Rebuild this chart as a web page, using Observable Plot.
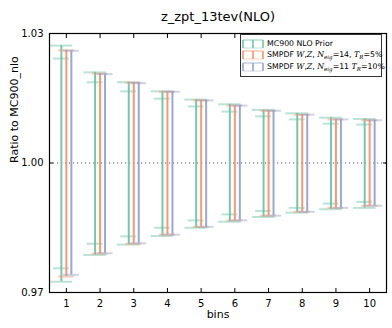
<!DOCTYPE html>
<html><head><meta charset="utf-8">
<script src="https://cdn.jsdelivr.net/npm/d3@7"></script>
<script src="https://cdn.jsdelivr.net/npm/@observablehq/plot@0.6"></script>
<style>
body{margin:0;background:#fff;}
#wrap{position:relative;width:392px;height:328px;font-family:"DejaVu Sans",sans-serif;}
#legend{position:absolute;left:240px;top:34px;width:142px;height:43px;border:1px solid #333;background:#fff;box-sizing:border-box;font-size:7.8px;color:#000;}
.row{position:absolute;left:1px;height:11px;display:flex;align-items:center;white-space:nowrap;}
.row svg{margin-right:3px;}
.m{font-family:"DejaVu Serif",serif;font-style:italic;}
sub{font-size:5.5px;vertical-align:-1.5px;}
</style></head><body><div id="wrap"></div>
<script>
const bins = [1, 2, 3, 4, 5, 6, 7, 8, 9, 10];
const yTicks = [0.97, 1.00, 1.03];
const seriesNames = ["MC900 NLO Prior", "SMPDF W,Z, N_eig=14, T_R=5%", "SMPDF W,Z, N_eig=11 T_R=10%"];
const colors = ["#66c2a5", "#fc8d62", "#8da0cb"];

const priorHigh   = [1.0272, 1.0210, 1.0187, 1.0166, 1.0147, 1.0136, 1.0123, 1.0115, 1.0105, 1.0102];
const priorLow    = [0.9725, 0.9787, 0.9811, 0.9831, 0.9850, 0.9864, 0.9875, 0.9885, 0.9893, 0.9896];
const prior68High = [1.0242, 1.0187, 1.0166, 1.0149, 1.0131, 1.0119, 1.0108, 1.0101, 1.0091, 1.0089];
const prior68Low  = [0.9756, 0.9813, 0.9830, 0.9850, 0.9867, 0.9881, 0.9889, 0.9896, 0.9906, 0.9910];
const smpdf14High = [1.0261, 1.0207, 1.0186, 1.0165, 1.0145, 1.0133, 1.0121, 1.0112, 1.0101, 1.0099];
const smpdf14Low  = [0.9737, 0.9790, 0.9813, 0.9834, 0.9852, 0.9867, 0.9878, 0.9887, 0.9896, 0.9901];
const smpdf11High = [1.0260, 1.0206, 1.0185, 1.0165, 1.0145, 1.0133, 1.0121, 1.0112, 1.0101, 1.0099];
const smpdf11Low  = [0.9741, 0.9791, 0.9814, 0.9834, 0.9852, 0.9867, 0.9878, 0.9887, 0.9896, 0.9901];

const mk = (lo, hi) => bins.map((b, i) => ({bin: b, low: lo[i], high: hi[i]}));
const prior = mk(priorLow, priorHigh);
const prior68 = mk(prior68Low, prior68High);
const s14 = mk(smpdf14Low, smpdf14High);
const s11 = mk(smpdf11Low, smpdf11High);

const off = 0.148;
function errbar(data, dx, color, capHalf, extra = []) {
  const marks = [
    Plot.ruleX(data, {x: d => d.bin + dx, y1: "low", y2: "high", stroke: color, strokeWidth: 2, strokeOpacity: 0.9}),
    Plot.ruleY(data, {y: "high", x1: d => d.bin + dx - capHalf, x2: d => d.bin + dx + capHalf, stroke: color, strokeWidth: 2, strokeOpacity: 0.45}),
    Plot.ruleY(data, {y: "low", x1: d => d.bin + dx - capHalf, x2: d => d.bin + dx + capHalf, stroke: color, strokeWidth: 2, strokeOpacity: 0.45})
  ];
  return marks.concat(extra);
}

const chart = Plot.plot({
  width: 392, height: 328,
  marginLeft: 49, marginRight: 6, marginTop: 33, marginBottom: 36,
  style: {fontFamily: "DejaVu Sans, sans-serif", fontSize: "10px", color: "#000", background: "#fff"},
  x: {domain: [0.5, 10.5]},
  y: {domain: [0.97, 1.03]},
  marks: [
    Plot.ruleY([1], {stroke: "#555", strokeWidth: 1, strokeDasharray: "1.2,2.8"}),
    ...errbar(prior, -off, colors[0], 0.335, [
      Plot.ruleY(prior68, {y: "high", x1: d => d.bin - off - 0.235, x2: d => d.bin - off + 0.235, stroke: colors[0], strokeWidth: 2, strokeOpacity: 0.45}),
      Plot.ruleY(prior68, {y: "low", x1: d => d.bin - off - 0.235, x2: d => d.bin - off + 0.235, stroke: colors[0], strokeWidth: 2, strokeOpacity: 0.45})
    ]),
    ...errbar(s14, 0, colors[1], 0.237),
    ...errbar(s11, off, colors[2], 0.237),
    Plot.frame({stroke: "#000", strokeWidth: 1.2}),
    Plot.axisX({anchor: "bottom", ticks: bins, tickSize: 0, tickPadding: 7, tickFormat: d3.format("d"), fontSize: 10, label: null}),
    Plot.axisX({anchor: "bottom", ticks: bins, tickSize: -4, tickFormat: () => "", label: null}),
    Plot.axisX({anchor: "top", ticks: bins, tickSize: -4, tickFormat: () => "", label: null}),
    Plot.axisY({anchor: "left", ticks: yTicks, tickSize: 0, tickPadding: 6, tickFormat: d3.format(".2f"), fontSize: 10, label: null}),
    Plot.axisY({anchor: "left", ticks: yTicks, tickSize: -4, tickFormat: () => "", label: null}),
    Plot.axisY({anchor: "right", ticks: yTicks, tickSize: -4, tickFormat: () => "", label: null}),
    Plot.text(["z_zpt_13tev(NLO)"], {frameAnchor: "top", dy: -22, fontSize: 13}),
    Plot.text(["Ratio to MC900_nlo"], {frameAnchor: "left", dx: -35, rotate: -90, fontSize: 11}),
    Plot.text(["bins"], {frameAnchor: "bottom", dy: 25, fontSize: 11})
  ]
});
const wrap = document.getElementById("wrap");
wrap.appendChild(chart);

function handle(c) {
  return `<svg width="22" height="10"><g stroke="${c}" stroke-width="1.5">
  <line x1="1" y1="1" x2="21" y2="1" stroke-opacity="0.5"/><line x1="1" y1="9" x2="21" y2="9" stroke-opacity="0.3"/>
  <line x1="1" y1="1" x2="1" y2="9"/><line x1="11" y1="1" x2="11" y2="9"/><line x1="21" y1="1" x2="21" y2="9"/></g></svg>`;
}
const legend = document.createElement("div");
legend.id = "legend";
const labelsHtml = [
  "MC900 NLO Prior",
  'SMPDF <span class="m">W</span>,<span class="m">Z</span>, <span class="m">N</span><sub class="m">eig</sub>=14, <span class="m">T</span><sub class="m">R</sub>=5%',
  'SMPDF <span class="m">W</span>,<span class="m">Z</span>, <span class="m">N</span><sub class="m">eig</sub>=11 <span class="m">T</span><sub class="m">R</sub>=10%'
];
legend.innerHTML = labelsHtml.map((h, i) =>
  `<div class="row" style="top:${3 + i * 11.5}px">${handle(colors[i])}<span>${h}</span></div>`).join("");
wrap.appendChild(legend);
</script></body></html>
